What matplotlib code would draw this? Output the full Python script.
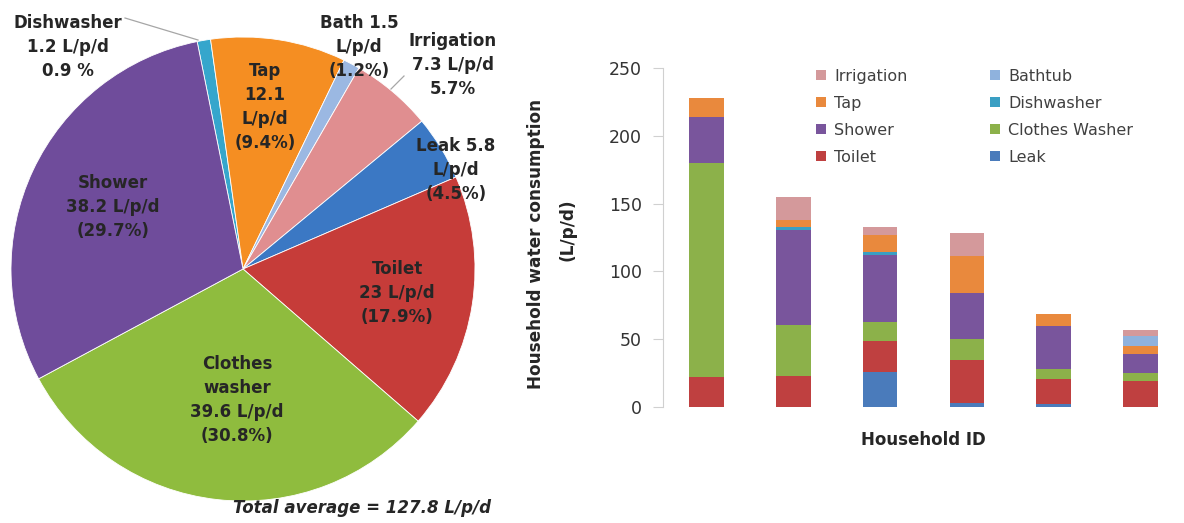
import numpy as np
import matplotlib
matplotlib.use("Agg")
import matplotlib.pyplot as plt
from matplotlib.patches import Patch

# ---------------- data ----------------
pie_labels = ["Dishwasher", "Tap", "Bath", "Irrigation", "Leak", "Toilet",
              "Clothes washer", "Shower"]
pie_values = [1.2, 12.1, 1.5, 7.3, 5.8, 23.0, 39.6, 38.2]
pie_texts = ["Dishwasher\n1.2 L/p/d\n0.9 %",
             "Tap\n12.1\nL/p/d\n(9.4%)",
             "Bath 1.5\nL/p/d\n(1.2%)",
             "Irrigation\n7.3 L/p/d\n5.7%",
             "Leak 5.8\nL/p/d\n(4.5%)",
             "Toilet\n23 L/p/d\n(17.9%)",
             "Clothes\nwasher\n39.6 L/p/d\n(30.8%)",
             "Shower\n38.2 L/p/d\n(29.7%)"]
total_text = "Total average = 127.8 L/p/d"

households = ["1", "2", "3", "4", "5", "6"]
# stacking order bottom -> top
series_names = ["Leak", "Toilet", "Clothes Washer", "Shower", "Dishwasher",
                "Tap", "Bathtub", "Irrigation"]
leak       = [0, 0, 26, 3, 2, 0]
toilet     = [22, 23, 23, 32, 19, 19]
clothes    = [158, 37.5, 14, 15, 7, 6]
shower     = [34, 70, 49, 34, 32, 14]
dishwasher = [0, 2.5, 2, 0, 0, 0]
tap        = [14, 5, 12.5, 27, 8.5, 6]
bathtub    = [0, 0, 0, 0, 0, 7.5]
irrigation = [0, 17, 6, 17, 0, 4]
yticks = [0, 50, 100, 150, 200, 250]

# ---------------- style ----------------
pie_colors = ["#36a6cc", "#f58e22", "#9bb8e2", "#e08e90", "#3b78c4",
              "#c63c39", "#8fbc3e", "#6f4c9b"]
bar_colors = {"Leak": "#4a7bbb", "Toilet": "#bf4040", "Clothes Washer": "#8cb14a",
              "Shower": "#79559c", "Dishwasher": "#3a9fc3", "Tap": "#e9893d",
              "Bathtub": "#8fb2dd", "Irrigation": "#d4999b"}
FONT = "DejaVu Sans"
plt.rcParams["font.family"] = [FONT]

W, H = 1184, 523
fig = plt.figure(figsize=(W / 100, H / 100), dpi=100)

def px(x0, y0, x1, y1):
    return [x0 / W, 1 - y1 / H, (x1 - x0) / W, (y1 - y0) / H]

# ---------------- pie ----------------
cx, cy, r = 243, 269, 232
axp = fig.add_axes(px(cx - r, cy - r, cx + r, cy + r))
axp.pie(pie_values, colors=pie_colors, startangle=101.4, counterclock=False,
        wedgeprops=dict(edgecolor="white", linewidth=0.6))
axp.set_xlim(-1, 1)
axp.set_ylim(-1, 1)
axp.set_axis_off()

# label positions (pixel centres)
label_pos = [(68, 47), (265, 107), (359, 47), (453, 65), (456, 170),
             (397, 293), (237, 400), (113, 207)]
for t, (lx, ly) in zip(pie_texts, label_pos):
    axp.text((lx - cx) / r, (cy - ly) / r, t, ha="center", va="center",
             fontsize=12, fontweight="bold", color="#262626",
             linespacing=1.45, clip_on=False)
# leader lines
for (x0, y0), (x1, y1) in [((125, 18), (198, 40)), ((391, 89), (404, 76))]:
    axp.plot([(x0 - cx) / r, (x1 - cx) / r], [(cy - y0) / r, (cy - y1) / r],
             color="#a6a6a6", lw=0.9, clip_on=False)
axp.text((362 - cx) / r, (cy - 508) / r, total_text, ha="center", va="center",
         fontsize=12, fontweight="bold", fontstyle="italic", color="#262626",
         clip_on=False)

# ---------------- stacked bars ----------------
axb = fig.add_axes(px(663, 68, 1184, 407))
x = np.arange(len(households))
data = {"Leak": leak, "Toilet": toilet, "Clothes Washer": clothes,
        "Shower": shower, "Dishwasher": dishwasher, "Tap": tap,
        "Bathtub": bathtub, "Irrigation": irrigation}
bottom = np.zeros(len(households))
for name in series_names:
    vals = np.array(data[name], dtype=float)
    axb.bar(x, vals, 0.4, bottom=bottom, color=bar_colors[name], linewidth=0)
    bottom += vals
axb.set_xlim(-0.5, 5.5)
axb.set_ylim(0, 250)
axb.set_yticks(yticks)
axb.set_xticks([])
for s in ["top", "right", "bottom"]:
    axb.spines[s].set_visible(False)
axb.spines["left"].set_color("#d0d0d0")
axb.tick_params(axis="y", direction="out", length=7, color="#d0d0d0",
                labelsize=12.5, labelcolor="#333333", pad=8)
axb.set_xlabel("Household ID", fontsize=12, fontweight="bold", color="#262626",
               labelpad=17)
fig.text(536 / W, 1 - 244 / H, "Household water consumption", rotation=90,
         ha="center", va="center", fontsize=12.2, fontweight="bold", color="#262626")
fig.text(568 / W, 1 - 230 / H, "(L/p/d)", rotation=90,
         ha="center", va="center", fontsize=12.2, fontweight="bold", color="#262626")

legend_order = ["Irrigation", "Tap", "Shower", "Toilet",
                "Bathtub", "Dishwasher", "Clothes Washer", "Leak"]
handles = [Patch(facecolor=bar_colors[n], edgecolor="none", label=n)
           for n in legend_order]
axb.legend(handles=handles, ncol=2, frameon=False, fontsize=11.5,
           handlelength=0.6, handleheight=0.6, handletextpad=0.5,
           columnspacing=5.2, labelspacing=0.75, labelcolor="#404040",
           loc="upper left", bbox_to_anchor=((802 - 663) / (1184 - 663), 1.04))

fig.savefig("out.png", dpi=100)
